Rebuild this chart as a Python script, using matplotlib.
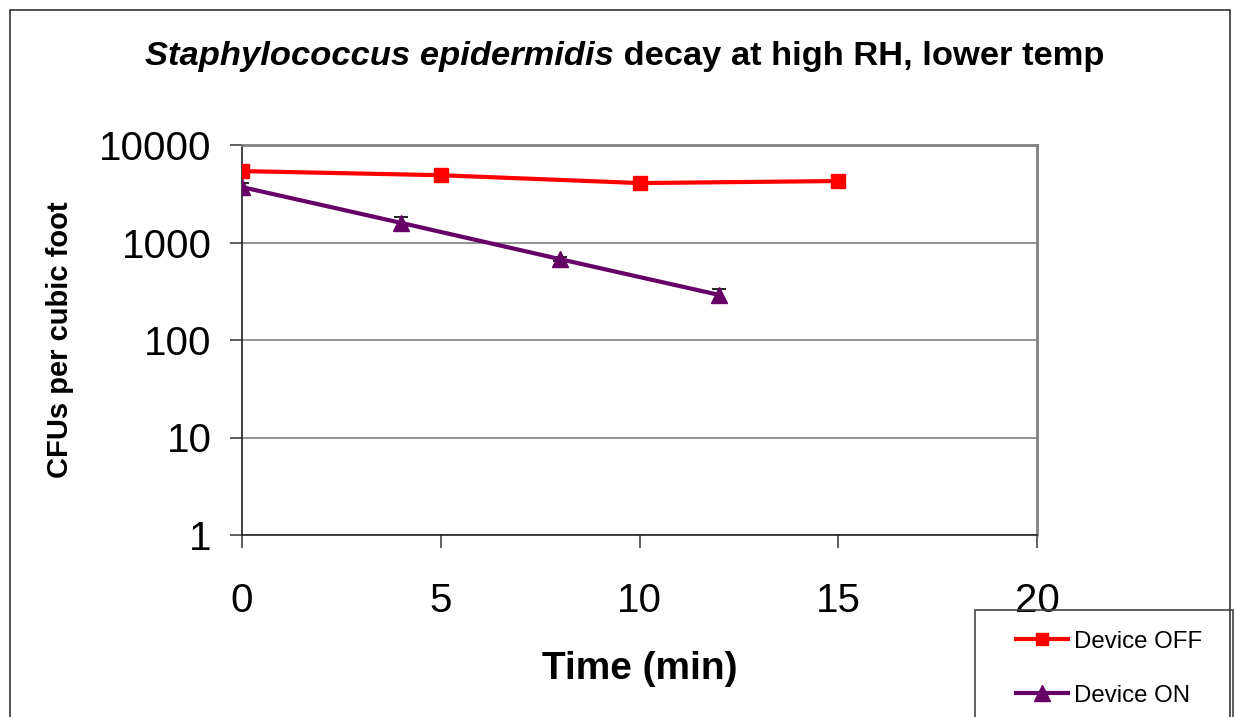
import matplotlib
matplotlib.use("Agg")
import matplotlib.pyplot as plt
from matplotlib.lines import Line2D
from matplotlib.patches import Rectangle

plt.rcParams["font.family"] = ["Liberation Sans", "DejaVu Sans"]

# data
time_off = [0, 5, 10, 15]
cfu_off = [5400, 4900, 4070, 4270]
err_off = [150, 120, 100, 110]

time_on = [0, 4, 8, 12]
cfu_on = [3700, 1590, 675, 290]
err_on = [380, 250, 30, 45]

x_ticks = [0, 5, 10, 15, 20]
y_ticks = [1, 10, 100, 1000, 10000]
y_tick_labels = ["1", "10", "100", "1000", "10000"]

OFF_COLOR = "#FF0000"
ON_COLOR = "#660066"

W, H = 1236, 717
fig = plt.figure(figsize=(W / 100, H / 100), dpi=100)
ax = fig.add_axes([242 / W, 1 - 535 / H, (1037 - 242) / W, (535 - 145) / H])

# outer chart frame
fig.patches.append(Rectangle((10 / W, -0.05), 1220 / W, 1 - 10 / H + 0.05,
                             transform=fig.transFigure, fill=False,
                             edgecolor="#333333", linewidth=1.2))

ax.errorbar(time_off, cfu_off, yerr=err_off, color=OFF_COLOR, lw=3,
            marker="s", markersize=10, ecolor="black", elinewidth=1.2,
            capsize=5, capthick=1.2, zorder=3)
ax.errorbar(time_on, cfu_on, yerr=err_on, color=ON_COLOR, lw=3,
            marker="^", markersize=12, ecolor="black", elinewidth=1.2,
            capsize=5, capthick=1.2, zorder=3)

ax.set_yscale("log")
ax.set_ylim(1, 10000)
ax.set_xlim(0, 20)
ax.set_xticks(x_ticks)
ax.set_yticks(y_ticks)
ax.set_yticklabels(y_tick_labels)
ax.minorticks_off()
ax.yaxis.grid(True, color="#808080", lw=1.2)
ax.set_axisbelow(True)

for side in ["top", "right"]:
    ax.spines[side].set_color("#808080")
    ax.spines[side].set_linewidth(2)
for side in ["left", "bottom"]:
    ax.spines[side].set_color("#222222")
    ax.spines[side].set_linewidth(1.2)

ax.tick_params(axis="both", labelsize=29, length=9, width=1.2, color="#444444")
ax.tick_params(axis="y", pad=13)
ax.tick_params(axis="x", pad=25)

ax.set_xlabel("Time (min)", fontsize=28, fontweight="bold", labelpad=22)
ax.set_ylabel("CFUs per cubic foot", fontsize=21, fontweight="bold", labelpad=18)

# title: italic species name followed by plain bold text, centred as a whole
title_y = 1 - 57 / H
t1 = fig.text(0, title_y, "Staphylococcus epidermidis", fontsize=24.8,
              fontweight="bold", fontstyle="italic", va="center")
t2 = fig.text(0, title_y, " decay at high RH, lower temp", fontsize=24.8,
              fontweight="bold", va="center")
renderer = fig.canvas.get_renderer()
w1 = t1.get_window_extent(renderer).width
w2 = t2.get_window_extent(renderer).width
x0 = 625 - (w1 + w2) / 2
t1.set_x(x0 / W)
t2.set_x((x0 + w1) / W)

# legend box, cut off by the bottom of the figure like the original
fig.patches.append(Rectangle((975 / W, -0.05), 258 / W, 1 - 610 / H + 0.05,
                             transform=fig.transFigure, fill=False,
                             edgecolor="#444444", linewidth=1.2))
handles = [
    Line2D([], [], color=OFF_COLOR, lw=3, marker="s", markersize=9),
    Line2D([], [], color=ON_COLOR, lw=3, marker="^", markersize=11),
]
fig.legend(handles, ["Device OFF", "Device ON"], loc="upper left",
           bbox_to_anchor=(994 / W, 1 - 609 / H),
           frameon=False, fontsize=17.3, handlelength=2.2,
           handletextpad=0.25, labelspacing=1.33)

fig.savefig("out.png", dpi=100)
